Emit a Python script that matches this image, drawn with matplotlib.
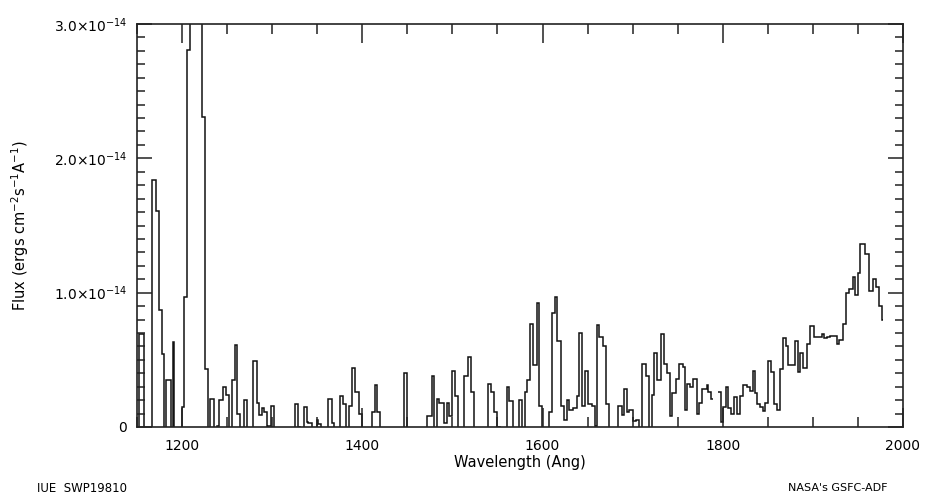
"""
IUE SWP19810 low-dispersion spectrum, redrawn as a histogram-style step plot
"""
import numpy as np
import matplotlib
matplotlib.use('Agg')
import matplotlib.pyplot as plt

NEG = -0.3  # bins that fall below zero (clipped at the bottom axis)

# left edge of each bin (Angstrom)
wave_left = [
    1150.0, 1152.0, 1158.0, 1166.4, 1171.1, 1174.5, 1177.5, 1180.0, 1182.2, 1187.5,
    1190.0, 1190.8, 1199.6, 1202.6, 1205.9, 1208.9, 1215.5, 1222.5, 1225.5, 1228.7,
    1231.1, 1235.9, 1239.2, 1241.4, 1245.1, 1248.5, 1252.2, 1255.1, 1258.8, 1261.4,
    1264.4, 1268.8, 1271.8, 1279.2, 1282.9, 1285.4, 1288.4, 1291.4, 1294.0, 1295.8,
    1298.8, 1302.1, 1325.4, 1329.1, 1331.0, 1335.4, 1338.3, 1340.2, 1344.6, 1349.4,
    1351.3, 1354.3, 1362.4, 1366.2, 1368.7, 1375.4, 1379.1, 1382.1, 1385.8, 1388.3,
    1392.0, 1396.5, 1399.4, 1410.5, 1414.3, 1416.8, 1419.8, 1446.4, 1450.1, 1472.3,
    1477.1, 1480.1, 1482.7, 1485.6, 1490.8, 1493.8, 1496.7, 1499.7, 1503.0, 1506.7,
    1513.4, 1517.8, 1520.4, 1524.1, 1540.0, 1543.0, 1545.6, 1549.3, 1553.0, 1560.4,
    1563.0, 1566.7, 1574.1, 1577.0, 1580.0, 1583.3, 1586.3, 1588.9, 1593.7, 1596.6,
    1599.2, 1607.4, 1610.3, 1614.0, 1616.6, 1620.3, 1623.3, 1627.0, 1629.9, 1633.6,
    1638.1, 1640.7, 1643.6, 1646.6, 1651.0, 1654.7, 1657.7, 1660.3, 1663.2, 1667.2,
    1670.5, 1673.5, 1684.2, 1688.0, 1690.9, 1693.5, 1696.5, 1700.9, 1703.9, 1707.6,
    1710.1, 1714.6, 1718.3, 1721.2, 1723.8, 1727.5, 1731.6, 1734.9, 1737.9, 1740.9,
    1744.2, 1748.3, 1751.2, 1755.7, 1758.2, 1760.8, 1763.8, 1767.5, 1771.2, 1773.8,
    1776.7, 1782.3, 1784.1, 1786.7, 1789.7, 1795.2, 1797.8, 1800.8, 1803.4, 1806.3,
    1809.3, 1813.0, 1816.3, 1819.3, 1823.0, 1826.7, 1830.4, 1833.3, 1835.9, 1838.5,
    1841.5, 1844.4, 1847.0, 1850.0, 1853.3, 1856.3, 1860.0, 1863.7, 1866.6, 1870.0,
    1872.9, 1876.6, 1880.3, 1883.3, 1885.9, 1888.5, 1894.0, 1897.0, 1900.7, 1904.4,
    1909.9, 1912.5, 1915.5, 1919.2, 1922.9, 1926.6, 1929.5, 1933.2, 1936.6, 1940.6,
    1944.0, 1946.9, 1949.9, 1952.8, 1958.0, 1962.8, 1966.5, 1970.2, 1973.9, 1976.9,
]
wave_end = 1977.6

# flux in units of 1e-14 erg/cm2/s/A (nan = gap in the data)
flux = [
    NEG, 0.69, NEG, 1.84, 1.61, 0.87, 0.54, NEG, 0.35, NEG,
    0.63, NEG, 0.15, 0.97, 2.81, 5.0, 4.0, 2.31, 0.43, NEG,
    0.21, NEG, 0.01, 0.20, 0.30, 0.24, NEG, 0.35, 0.61, 0.10,
    NEG, 0.20, NEG, 0.49, 0.18, 0.09, 0.14, 0.11, NEG, 0.01,
    0.16, NEG, 0.17, 0.0, NEG, 0.15, 0.035, 0.03, NEG, 0.05,
    0.02, NEG, 0.21, 0.03, NEG, 0.23, 0.17, NEG, 0.16, 0.44,
    0.26, 0.10, NEG, 0.11, 0.31, 0.11, NEG, 0.40, NEG, 0.085,
    0.38, NEG, 0.21, 0.18, 0.03, 0.18, 0.085, 0.42, 0.23, NEG,
    0.38, 0.52, 0.26, NEG, 0.32, 0.26, 0.11, 0.0, NEG, 0.30,
    0.19, NEG, 0.20, NEG, 0.26, 0.35, 0.77, 0.46, 0.92, 0.16,
    NEG, 0.11, 0.85, 0.97, 0.64, 0.16, 0.05, 0.20, 0.13, 0.14,
    0.23, 0.70, 0.16, 0.42, 0.17, 0.16, 0.01, 0.76, 0.67, 0.60,
    0.17, NEG, 0.16, 0.09, 0.28, 0.11, 0.13, 0.045, 0.05, NEG,
    0.47, 0.38, NEG, 0.24, 0.55, 0.35, 0.69, 0.47, 0.40, 0.085,
    0.25, 0.36, 0.47, 0.45, 0.13, 0.32, 0.30, 0.36, 0.10, 0.18,
    0.28, 0.31, 0.26, 0.21, np.nan, 0.26, 0.04, 0.15, 0.30, 0.14,
    0.10, 0.22, 0.10, 0.23, 0.31, 0.30, 0.27, 0.42, 0.25, 0.17,
    0.15, 0.12, 0.18, 0.49, 0.41, 0.17, 0.13, 0.43, 0.66, 0.60,
    0.46, 0.46, 0.64, 0.41, 0.55, 0.44, 0.62, 0.75, 0.67, 0.67,
    0.69, 0.66, 0.67, 0.68, 0.68, 0.62, 0.65, 0.77, 1.00, 1.03,
    1.12, 0.98, 1.15, 1.36, 1.29, 1.01, 1.10, 1.04, 0.90, 0.80,
]

x_major = [1200, 1400, 1600, 1800, 2000]
y_major = [0, 1e-14, 2e-14, 3e-14]
y_labels = ['0', r'1.0$\times$10$^{-14}$', r'2.0$\times$10$^{-14}$', r'3.0$\times$10$^{-14}$']

plt.rcParams['font.family'] = 'DejaVu Sans'
plt.rcParams['font.size'] = 10

edges = np.array(wave_left + [wave_end])
values = np.array(flux) * 1e-14

fig = plt.figure(figsize=(9.25, 4.95), dpi=100)
ax = fig.add_axes([137 / 925, 1 - 427 / 495, (903 - 137) / 925, (427 - 24) / 495])

# step outline, no baseline edges
ax.stairs(values, edges, baseline=None, color='#111111', lw=1.1)

ax.set_xlim(1150, 2000)
ax.set_ylim(0, 3e-14)
ax.set_xticks(x_major)
ax.set_xticks(np.arange(1150, 2001, 50), minor=True)
ax.set_yticks(y_major)
ax.set_yticklabels(y_labels)
ax.set_yticks(np.arange(0, 3.01e-14, 1e-15), minor=True)

ax.tick_params(which='both', direction='in', top=True, right=True, width=1.1, color='#222222')
ax.tick_params(axis='x', which='major', length=14, pad=9)
ax.tick_params(axis='x', which='minor', length=7)
ax.tick_params(axis='y', which='major', length=11, pad=7)
ax.tick_params(axis='y', which='minor', length=6)
for sp in ax.spines.values():
    sp.set_linewidth(1.2)
    sp.set_color('#222222')

fig.text(520 / 925, 1 - 463 / 495, 'Wavelength (Ang)', ha='center', va='center', fontsize=10.5)
fig.text(20 / 925, 1 - 226 / 495, r'Flux (ergs cm$^{-2}$s$^{-1}$A$^{-1}$)',
         rotation=90, ha='center', va='center', fontsize=10.5)
fig.text(37 / 925, 1 - 488 / 495, 'IUE  SWP19810', ha='left', va='center', fontsize=8.5)
fig.text(888 / 925, 1 - 488 / 495, "NASA's GSFC-ADF", ha='right', va='center', fontsize=8)

fig.savefig('out.png', dpi=100)
